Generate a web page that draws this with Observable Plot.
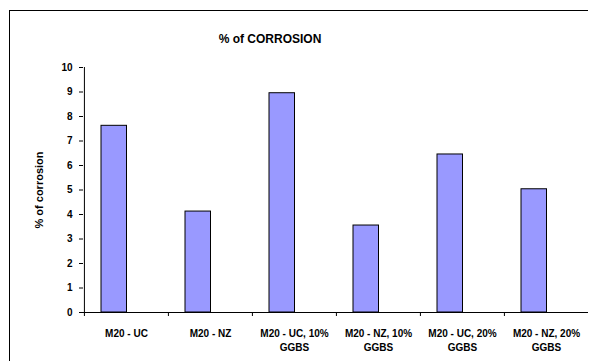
<!DOCTYPE html>
<html><head><meta charset="utf-8">
<script src="https://cdn.jsdelivr.net/npm/d3@7"></script>
<script src="https://cdn.jsdelivr.net/npm/@observablehq/plot@0.6"></script>
<style>
html,body{margin:0;padding:0;background:#fff;font-family:"Liberation Sans",Arial,sans-serif;overflow:hidden;}
#wrap{position:relative;width:589px;height:361px;overflow:hidden;background:#fff;}
#border{position:absolute;left:9px;top:10px;width:578px;height:400px;border-top:1.5px solid #000;border-left:1.5px solid #000;border-right:0;border-bottom:0;}
#title{position:absolute;left:0;width:540px;top:32px;text-align:center;font-weight:bold;font-size:12px;color:#000;}
#chart{position:absolute;left:0;top:0;}
</style>
</head><body>
<div id="wrap"><div id="border"></div><div id="chart"></div><div id="title">% of CORROSION</div></div>
<script>
const categories = ["M20 - UC", "M20 - NZ", "M20 - UC, 10%\nGGBS", "M20 - NZ, 10%\nGGBS", "M20 - UC, 20%\nGGBS", "M20 - NZ, 20%\nGGBS"];
const corrosion = [7.62, 4.12, 8.95, 3.55, 6.45, 5.03];
const yTicks = [0,1,2,3,4,5,6,7,8,9,10];

const data = categories.map((c, i) => ({cat: c, value: corrosion[i]}));
const W = 589, ML = 83, MR = 1;
const step = (W - ML - MR) / categories.length;

const chart = Plot.plot({
  width: W, height: 361,
  marginTop: 67, marginBottom: 49, marginLeft: ML, marginRight: MR,
  style: {fontFamily: "'Liberation Sans', Arial, sans-serif", background: "transparent", color: "#000", overflow: "visible"},
  x: {domain: categories, padding: 0},
  y: {domain: [0, 10]},
  marks: [
    Plot.barY(data, {x: "cat", y: "value", fill: "#9999FF", stroke: "#000", strokeWidth: 1, insetLeft: 17, insetRight: 41.5}),
    Plot.axisY({ticks: yTicks, tickSize: 4, tickPadding: 7, fontSize: 10, fontWeight: "bold", label: null}),
    Plot.text(["% of corrosion"], {frameAnchor: "left", textAnchor: "middle", lineAnchor: "middle", rotate: -90, dx: -44, fontSize: 11, fontWeight: "bold"}),
    Plot.axisX({tickSize: 0, tickPadding: 14, fontSize: 10, fontWeight: "bold", lineHeight: 1.45, label: null}),
    Plot.axisX({tickSize: 4, tickFormat: () => "", dx: -step / 2, label: null}),
    Plot.ruleY([0], {stroke: "#000", strokeWidth: 1}),
    Plot.ruleX([categories[0]], {y1: 0, y2: 10, dx: -step / 2, stroke: "#000", strokeWidth: 1})
  ]
});
document.getElementById("chart").appendChild(chart);
</script>
</body></html>
